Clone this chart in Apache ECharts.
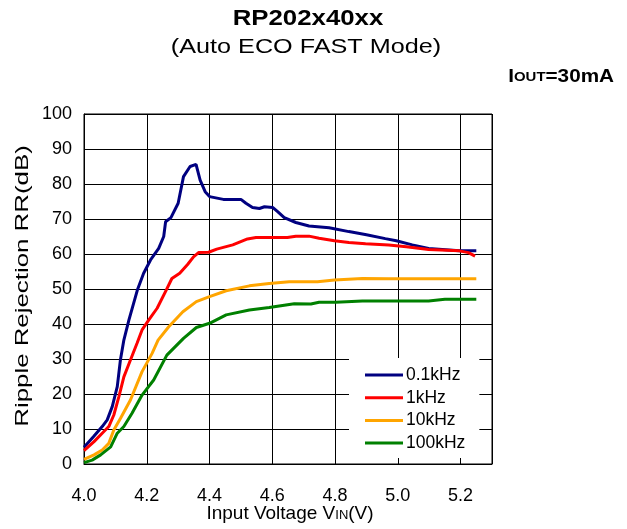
<!DOCTYPE html>
<html><head><meta charset="utf-8">
<script src="https://cdn.jsdelivr.net/npm/echarts@6/dist/echarts.min.js"></script>
<style>html,body{margin:0;padding:0;background:#fff}#c{width:627px;height:529px}</style>
</head><body><div id="c"></div>
<script>
const seriesNames = ['0.1kHz', '1kHz', '10kHz', '100kHz'];
const seriesColors = ['#000080', '#FF0000', '#FFA500', '#008000'];

const vin01 = [4.000, 4.030, 4.058, 4.074, 4.090, 4.106, 4.116, 4.127, 4.143, 4.170, 4.190, 4.212, 4.238, 4.254, 4.260, 4.277, 4.300, 4.317, 4.338, 4.357, 4.370, 4.386, 4.400, 4.444, 4.500, 4.516, 4.537, 4.559, 4.575, 4.601, 4.617, 4.638, 4.675, 4.717, 4.781, 4.844, 4.900, 4.960, 4.995, 5.046, 5.098, 5.196, 5.250];
const rr01 = [4.8, 7.8, 10.7, 12.6, 16.4, 22.1, 29.7, 35.4, 41.1, 49.7, 54.5, 58.3, 61.6, 65.0, 69.2, 70.4, 74.5, 82.1, 85.0, 85.6, 81.1, 77.8, 76.4, 75.6, 75.6, 74.5, 73.3, 73.0, 73.5, 73.3, 72.1, 70.4, 69.0, 68.0, 67.5, 66.4, 65.5, 64.4, 63.8, 62.6, 61.6, 60.9, 60.9];

const vin1 = [4.000, 4.032, 4.058, 4.079, 4.095, 4.111, 4.127, 4.148, 4.169, 4.185, 4.206, 4.233, 4.262, 4.280, 4.305, 4.330, 4.349, 4.365, 4.397, 4.423, 4.474, 4.521, 4.548, 4.648, 4.675, 4.717, 4.749, 4.798, 4.844, 4.897, 4.971, 5.027, 5.098, 5.196, 5.225, 5.246];
const rr1 = [3.8, 6.4, 8.8, 10.7, 14.0, 19.2, 24.9, 29.7, 34.5, 38.3, 41.1, 44.5, 49.7, 53.0, 54.5, 57.0, 59.2, 60.4, 60.5, 61.4, 62.6, 64.3, 64.7, 64.7, 65.1, 65.1, 64.5, 63.8, 63.3, 62.9, 62.6, 62.1, 61.3, 60.9, 60.4, 59.4];

const vin10 = [4.000, 4.032, 4.058, 4.079, 4.095, 4.116, 4.148, 4.185, 4.217, 4.236, 4.270, 4.315, 4.358, 4.400, 4.453, 4.527, 4.590, 4.654, 4.744, 4.798, 4.887, 4.971, 5.100, 5.250];
const rr10 = [1.3, 2.6, 4.0, 5.9, 9.7, 13.0, 18.3, 26.4, 31.6, 35.4, 39.2, 43.5, 46.4, 47.8, 49.5, 50.9, 51.6, 52.1, 52.1, 52.6, 53.0, 52.9, 52.9, 52.9];

const vin100 = [4.000, 4.026, 4.053, 4.085, 4.106, 4.127, 4.153, 4.185, 4.222, 4.264, 4.317, 4.358, 4.400, 4.453, 4.527, 4.590, 4.670, 4.723, 4.749, 4.802, 4.887, 4.971, 5.098, 5.150, 5.250];
const rr100 = [0.4, 1.1, 2.6, 4.9, 8.8, 10.7, 14.5, 19.7, 24.0, 31.1, 35.9, 39.0, 40.2, 42.6, 44.0, 44.7, 45.8, 45.7, 46.2, 46.2, 46.6, 46.6, 46.6, 47.1, 47.1];

const xMin = 4.0, xMax = 5.3, xStep = 0.2;
const yMin = 0, yMax = 100, yStep = 10;

const titleText = 'RP202x40xx';
const subtitleText = '(Auto ECO FAST Mode)';

const FONT = '"Liberation Sans", Arial, sans-serif';
const xs = [vin01, vin1, vin10, vin100];
const ys = [rr01, rr1, rr10, rr100];
const pairs = (a, b) => a.map((v, i) => [v, b[i]]);

const chart = echarts.init(document.getElementById('c'), null, {renderer: 'canvas'});
chart.setOption({
  animation: false,
  backgroundColor: '#fff',
  textStyle: {fontFamily: FONT},
  grid: {left: 84, right: 135, top: 114, bottom: 65, show: true, borderColor: '#000', borderWidth: 1, backgroundColor: 'transparent'},
  xAxis: {
    type: 'value', min: xMin, max: xMax, interval: xStep,
    axisLine: {show: true, lineStyle: {color: '#000', width: 1}},
    axisTick: {show: true, inside: true, length: 6, lineStyle: {color: '#000'}},
    axisLabel: {show: true, color: '#000', fontSize: 18, fontFamily: FONT, margin: 23, showMaxLabel: false,
      formatter: v => (Math.abs(v - xMax) < 1e-6 ? '' : v.toFixed(1))},
    splitLine: {show: true, lineStyle: {color: '#000', width: 1}}
  },
  yAxis: {
    type: 'value', min: yMin, max: yMax, interval: yStep,
    axisLine: {show: true, lineStyle: {color: '#000', width: 1}},
    axisTick: {show: false},
    axisLabel: {color: '#000', fontSize: 18, fontFamily: FONT, margin: 12},
    splitLine: {show: true, lineStyle: {color: '#000', width: 1}}
  },
  legend: {
    data: seriesNames,
    orient: 'vertical',
    left: 349, top: 358,
    backgroundColor: '#fff',
    padding: [8, 14, 6, 16],
    icon: 'rect', itemWidth: 38, itemHeight: 3, itemGap: 4.7,
    textStyle: {fontSize: 17.5, color: '#000', fontFamily: FONT, lineHeight: 18, padding: [0, 0, 0, -2]}
  },
  series: seriesNames.map((n, i) => ({
    name: n, type: 'line', data: pairs(xs[i], ys[i]),
    symbol: 'none', smooth: false, color: seriesColors[i],
    lineStyle: {color: seriesColors[i], width: 3}, z: 3
  })),
  graphic: [
    {type: 'text', x: 308, y: 19, scaleX: 1.2, style: {text: titleText, font: 'bold 21.5px ' + FONT, align: 'center', verticalAlign: 'middle', fill: '#000'}},
    {type: 'text', x: 306, y: 47, scaleX: 1.2, style: {text: subtitleText, font: '21px ' + FONT, align: 'center', verticalAlign: 'middle', fill: '#000'}},
    {type: 'text', x: 614, y: 77, scaleX: 1.15, style: {text: 'I{s|OUT}=30mA', font: 'bold 18px ' + FONT, align: 'right', verticalAlign: 'middle', fill: '#000',
      rich: {s: {fontSize: 13, fontWeight: 'bold', fontFamily: FONT, verticalAlign: 'bottom', padding: [0, 0, 2, 0]}}}},
    {type: 'text', x: 23, y: 286, rotation: Math.PI / 2, scaleX: 1.36, style: {text: 'Ripple Rejection RR(dB)', font: '19px ' + FONT, align: 'center', verticalAlign: 'middle', fill: '#000'}},
    {type: 'text', x: 290, y: 514, style: {text: 'Input Voltage V{s|IN}(V)', font: '19px ' + FONT, align: 'center', verticalAlign: 'middle', fill: '#000',
      rich: {s: {fontSize: 13, fontFamily: FONT, verticalAlign: 'bottom', padding: [0, 0, 2, 0]}}}}
  ]
});
</script>
</body></html>
